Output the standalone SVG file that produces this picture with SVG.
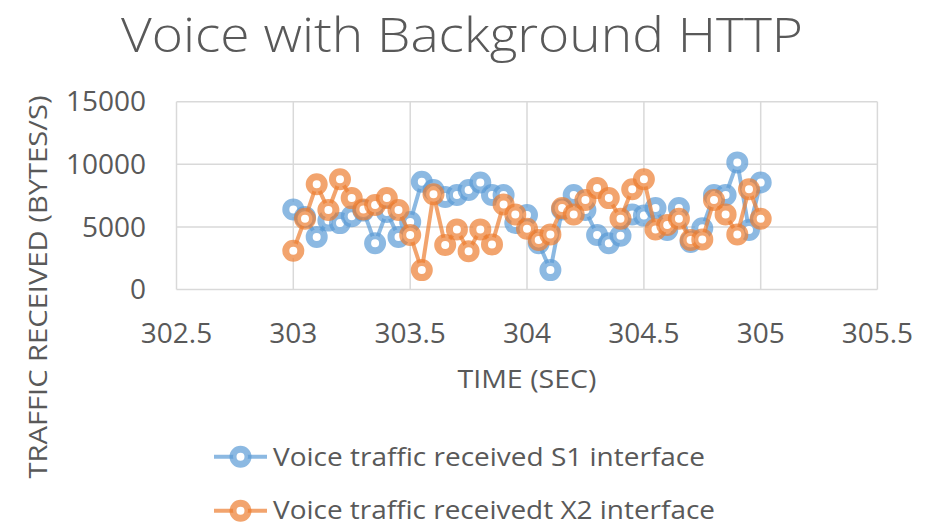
<svg xmlns="http://www.w3.org/2000/svg" width="933" height="526" viewBox="0 0 933 526">
<style>
text{font-family:"Open Sans","Noto Sans","Liberation Sans",sans-serif;fill:#595959}
.grid{stroke:#d9d9d9;stroke-width:1.5;fill:none}
.lb{fill:none;stroke:#5B9BD5;stroke-opacity:0.7;stroke-width:4;stroke-linejoin:round}
.lo{fill:none;stroke:#ED7D31;stroke-opacity:0.7;stroke-width:4;stroke-linejoin:round}
.mb circle{fill:#fff;stroke:#5B9BD5;stroke-opacity:0.7;stroke-width:7}
.mo circle{fill:#fff;stroke:#ED7D31;stroke-opacity:0.7;stroke-width:7}
.tick{font-size:28px}
</style>
<rect width="933" height="526" fill="#fff"/>
<text x="462" y="52" font-size="48" text-anchor="middle" textLength="682" lengthAdjust="spacingAndGlyphs" style="font-weight:300">Voice with Background HTTP</text>
<g id="grid">
<path class="grid" d="M176.5,101.7H877.4M176.5,164.3H877.4M176.5,226.9H877.4M176.5,289.5H877.4"/>
<path class="grid" d="M176.5,101.7V289.5M293.3,101.7V289.5M410.2,101.7V289.5M527,101.7V289.5M643.9,101.7V289.5M760.7,101.7V289.5M877.4,101.7V289.5"/>
</g>
<g id="yticks" class="tick" text-anchor="end">
<text x="146" y="111">15000</text>
<text x="146" y="174">10000</text>
<text x="146" y="236.5">5000</text>
<text x="146" y="298.5">0</text>
</g>
<g id="xticks" class="tick" text-anchor="middle">
<text x="176.5" y="343">302.5</text>
<text x="293.3" y="343">303</text>
<text x="410.2" y="343">303.5</text>
<text x="527" y="343">304</text>
<text x="643.9" y="343">304.5</text>
<text x="760.7" y="343">305</text>
<text x="877.4" y="343">305.5</text>
</g>
<text x="527" y="388" font-size="26" text-anchor="middle" textLength="139" lengthAdjust="spacingAndGlyphs">TIME (SEC)</text>
<text transform="translate(47,287) rotate(-90)" font-size="26" text-anchor="middle" textLength="383" lengthAdjust="spacingAndGlyphs">TRAFFIC RECEIVED (BYTES/S)</text>
<g id="connectors">
<polyline class="lb" points="293.3,209.4 305.0,216.9 316.7,236.9 328.4,220.6 340.0,223.1 351.7,216.3 363.4,210.6 375.1,243.2 386.8,211.9 398.5,236.9 410.2,221.9 421.8,181.8 433.5,190.0 445.2,196.9 456.9,195.0 468.6,190.0 480.3,182.5 492.0,195.0 503.6,195.0 515.3,223.1 527.0,215.0 538.7,243.2 550.4,270.1 562.1,209.4 573.7,195.0 585.4,210.0 597.1,235.0 608.8,243.2 620.5,235.7 632.2,214.4 643.9,215.6 655.5,208.1 667.2,230.0 678.9,208.1 690.6,241.9 702.3,228.2 714.0,195.0 725.6,195.0 737.3,162.4 749.0,230.0 760.7,182.5"/>
</g>
<g id="s1-markers" class="mb">
<circle cx="293.3" cy="209.4" r="7.5"/><circle cx="305.0" cy="216.9" r="7.5"/><circle cx="316.7" cy="236.9" r="7.5"/><circle cx="328.4" cy="220.6" r="7.5"/><circle cx="340.0" cy="223.1" r="7.5"/><circle cx="351.7" cy="216.3" r="7.5"/><circle cx="363.4" cy="210.6" r="7.5"/><circle cx="375.1" cy="243.2" r="7.5"/><circle cx="386.8" cy="211.9" r="7.5"/><circle cx="398.5" cy="236.9" r="7.5"/><circle cx="410.2" cy="221.9" r="7.5"/><circle cx="421.8" cy="181.8" r="7.5"/><circle cx="433.5" cy="190.0" r="7.5"/><circle cx="445.2" cy="196.9" r="7.5"/><circle cx="456.9" cy="195.0" r="7.5"/><circle cx="468.6" cy="190.0" r="7.5"/><circle cx="480.3" cy="182.5" r="7.5"/><circle cx="492.0" cy="195.0" r="7.5"/><circle cx="503.6" cy="195.0" r="7.5"/><circle cx="515.3" cy="223.1" r="7.5"/><circle cx="527.0" cy="215.0" r="7.5"/><circle cx="538.7" cy="243.2" r="7.5"/><circle cx="550.4" cy="270.1" r="7.5"/><circle cx="562.1" cy="209.4" r="7.5"/><circle cx="573.7" cy="195.0" r="7.5"/><circle cx="585.4" cy="210.0" r="7.5"/><circle cx="597.1" cy="235.0" r="7.5"/><circle cx="608.8" cy="243.2" r="7.5"/><circle cx="620.5" cy="235.7" r="7.5"/><circle cx="632.2" cy="214.4" r="7.5"/><circle cx="643.9" cy="215.6" r="7.5"/><circle cx="655.5" cy="208.1" r="7.5"/><circle cx="667.2" cy="230.0" r="7.5"/><circle cx="678.9" cy="208.1" r="7.5"/><circle cx="690.6" cy="241.9" r="7.5"/><circle cx="702.3" cy="228.2" r="7.5"/><circle cx="714.0" cy="195.0" r="7.5"/><circle cx="725.6" cy="195.0" r="7.5"/><circle cx="737.3" cy="162.4" r="7.5"/><circle cx="749.0" cy="230.0" r="7.5"/><circle cx="760.7" cy="182.5" r="7.5"/>
</g>
<g id="connectors-x2">
<polyline class="lo" points="293.3,250.7 305.0,218.8 316.7,184.3 328.4,210.0 340.0,179.3 351.7,198.1 363.4,209.4 375.1,205.0 386.8,198.1 398.5,210.0 410.2,235.0 421.8,270.1 433.5,194.3 445.2,245.1 456.9,229.4 468.6,251.3 480.3,229.4 492.0,244.4 503.6,204.4 515.3,214.4 527.0,228.8 538.7,240.0 550.4,234.4 562.1,208.1 573.7,214.4 585.4,200.0 597.1,188.1 608.8,198.1 620.5,218.8 632.2,189.3 643.9,179.3 655.5,229.4 667.2,225.0 678.9,218.8 690.6,240.0 702.3,239.4 714.0,200.0 725.6,214.4 737.3,234.4 749.0,189.3 760.7,218.8"/>
</g>
<g id="x2-markers" class="mo">
<circle cx="293.3" cy="250.7" r="7.5"/><circle cx="305.0" cy="218.8" r="7.5"/><circle cx="316.7" cy="184.3" r="7.5"/><circle cx="328.4" cy="210.0" r="7.5"/><circle cx="340.0" cy="179.3" r="7.5"/><circle cx="351.7" cy="198.1" r="7.5"/><circle cx="363.4" cy="209.4" r="7.5"/><circle cx="375.1" cy="205.0" r="7.5"/><circle cx="386.8" cy="198.1" r="7.5"/><circle cx="398.5" cy="210.0" r="7.5"/><circle cx="410.2" cy="235.0" r="7.5"/><circle cx="421.8" cy="270.1" r="7.5"/><circle cx="433.5" cy="194.3" r="7.5"/><circle cx="445.2" cy="245.1" r="7.5"/><circle cx="456.9" cy="229.4" r="7.5"/><circle cx="468.6" cy="251.3" r="7.5"/><circle cx="480.3" cy="229.4" r="7.5"/><circle cx="492.0" cy="244.4" r="7.5"/><circle cx="503.6" cy="204.4" r="7.5"/><circle cx="515.3" cy="214.4" r="7.5"/><circle cx="527.0" cy="228.8" r="7.5"/><circle cx="538.7" cy="240.0" r="7.5"/><circle cx="550.4" cy="234.4" r="7.5"/><circle cx="562.1" cy="208.1" r="7.5"/><circle cx="573.7" cy="214.4" r="7.5"/><circle cx="585.4" cy="200.0" r="7.5"/><circle cx="597.1" cy="188.1" r="7.5"/><circle cx="608.8" cy="198.1" r="7.5"/><circle cx="620.5" cy="218.8" r="7.5"/><circle cx="632.2" cy="189.3" r="7.5"/><circle cx="643.9" cy="179.3" r="7.5"/><circle cx="655.5" cy="229.4" r="7.5"/><circle cx="667.2" cy="225.0" r="7.5"/><circle cx="678.9" cy="218.8" r="7.5"/><circle cx="690.6" cy="240.0" r="7.5"/><circle cx="702.3" cy="239.4" r="7.5"/><circle cx="714.0" cy="200.0" r="7.5"/><circle cx="725.6" cy="214.4" r="7.5"/><circle cx="737.3" cy="234.4" r="7.5"/><circle cx="749.0" cy="189.3" r="7.5"/><circle cx="760.7" cy="218.8" r="7.5"/>
</g>
<g id="legend">
<line class="lb" x1="214" y1="456.7" x2="267" y2="456.7"/>
<g class="mb"><circle cx="240.5" cy="456.7" r="7.5"/></g>
<text x="273" y="466" font-size="26" textLength="432" lengthAdjust="spacingAndGlyphs">Voice traffic received S1 interface</text>
<line class="lo" x1="214" y1="510.7" x2="267" y2="510.7"/>
<g class="mo"><circle cx="240.5" cy="510.7" r="7.5"/></g>
<text x="273" y="518.5" font-size="26" textLength="442" lengthAdjust="spacingAndGlyphs">Voice traffic receivedt X2 interface</text>
</g>
</svg>
